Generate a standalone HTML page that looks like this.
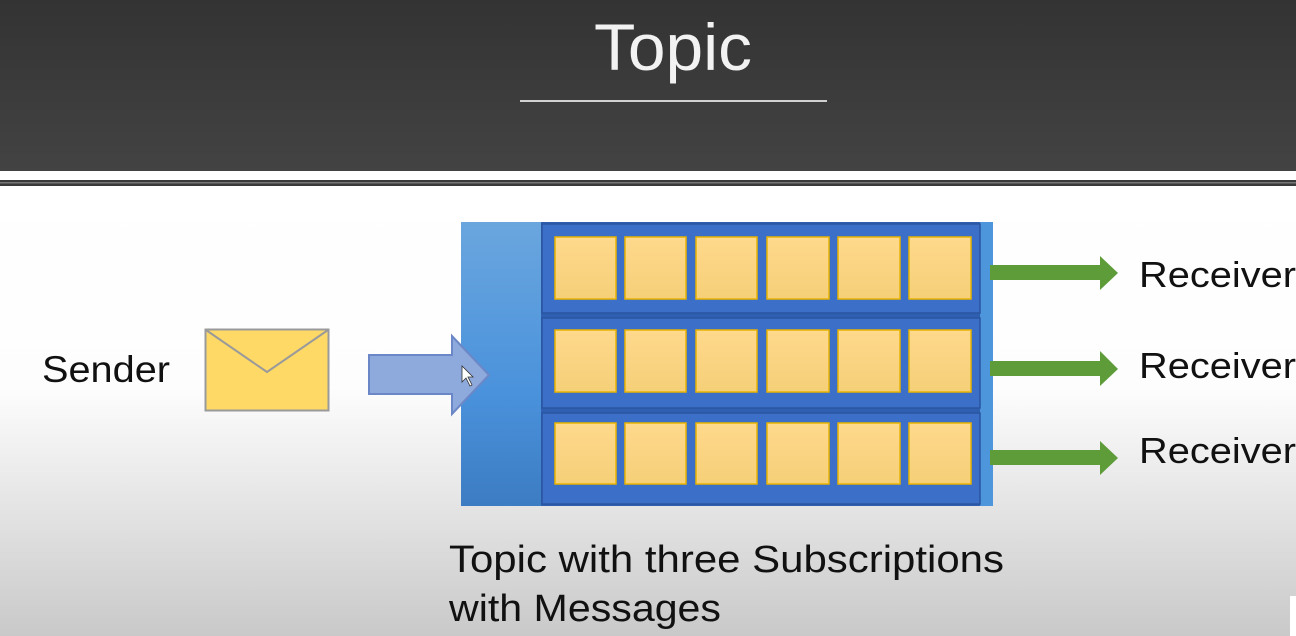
<!DOCTYPE html>
<html><head><meta charset="utf-8"><style>
html,body{margin:0;padding:0;width:1296px;height:636px;overflow:hidden;background:#fff}
svg{display:block}
text{font-family:"Liberation Sans",sans-serif}
</style></head><body>
<svg width="1296" height="636" viewBox="0 0 1296 636" xmlns="http://www.w3.org/2000/svg">
<defs>
<linearGradient id="bg" x1="0" y1="0" x2="0" y2="1">
<stop offset="0" stop-color="#ffffff"/><stop offset="0.45" stop-color="#fdfdfd"/><stop offset="1" stop-color="#c9c9c9"/>
</linearGradient>
<linearGradient id="hd" x1="0" y1="0" x2="0" y2="1">
<stop offset="0" stop-color="#333"/><stop offset="1" stop-color="#434343"/>
</linearGradient>
<linearGradient id="col" x1="0" y1="0" x2="0" y2="1">
<stop offset="0" stop-color="#6aa6de"/><stop offset="0.6" stop-color="#4a92dc"/><stop offset="1" stop-color="#3c7cc2"/>
</linearGradient>
<linearGradient id="sq" x1="0" y1="0" x2="0" y2="1">
<stop offset="0" stop-color="#ffd98c"/><stop offset="1" stop-color="#f6cf78"/>
</linearGradient>
</defs>
<rect x="0" y="186" width="1296" height="450" fill="url(#bg)"/>
<rect x="0" y="0" width="1296" height="171" fill="url(#hd)"/>
<rect x="0" y="171" width="1296" height="9" fill="#fff"/>
<rect x="0" y="180" width="1296" height="6" fill="#3a3a3a"/>
<rect x="0" y="182" width="1296" height="1.5" fill="#777"/>
<text x="594" y="70" font-size="66" fill="#f2f2f2" textLength="158" lengthAdjust="spacingAndGlyphs">Topic</text>
<rect x="520" y="100" width="307" height="2" fill="#d0d0d0"/>

<text x="42" y="382" font-size="37" fill="#111" textLength="128" lengthAdjust="spacingAndGlyphs">Sender</text>
<rect x="205.5" y="329.5" width="123" height="81" fill="#ffd966" stroke="#9a9a9a" stroke-width="2"/>
<polyline points="206,330 267,372 328,330" fill="none" stroke="#9a9a9a" stroke-width="2"/>

<rect x="461" y="222" width="532" height="284" fill="url(#col)"/>
<rect x="541" y="222" width="440" height="284" fill="#2f5fb0"/>
<rect x="980" y="222" width="13" height="284" fill="#4d96dc"/>
<g fill="#3c6fc8" stroke="#2a55a0" stroke-width="1.5">
<rect x="542" y="224" width="438" height="89"/>
<rect x="542" y="318" width="438" height="90"/>
<rect x="542" y="413" width="438" height="91"/>
</g>
<g fill="url(#sq)" stroke="#e8b400" stroke-width="1.5">
<rect x="555" y="237" width="61" height="62"/><rect x="625" y="237" width="61" height="62"/><rect x="696" y="237" width="61" height="62"/><rect x="767" y="237" width="62" height="62"/><rect x="838" y="237" width="62" height="62"/><rect x="909" y="237" width="62" height="62"/>
<rect x="555" y="330" width="61" height="62"/><rect x="625" y="330" width="61" height="62"/><rect x="696" y="330" width="61" height="62"/><rect x="767" y="330" width="62" height="62"/><rect x="838" y="330" width="62" height="62"/><rect x="909" y="330" width="62" height="62"/>
<rect x="555" y="423" width="61" height="61"/><rect x="625" y="423" width="61" height="61"/><rect x="696" y="423" width="61" height="61"/><rect x="767" y="423" width="62" height="61"/><rect x="838" y="423" width="62" height="61"/><rect x="909" y="423" width="62" height="61"/>
</g>

<polygon points="369,355 452,355 452,336 489,375 452,414 452,394 369,394" fill="#8ea9db" stroke="#6b87c7" stroke-width="2"/>
<polygon points="462,366 462,382 466,378 470,386 472,385 468,377 473,377" fill="#fff" stroke="#333" stroke-width="0.8"/>

<g fill="#5e9c3a">
<polygon points="990,265 1100,265 1100,256 1118,273 1100,290 1100,280 990,280"/>
<polygon points="990,361 1100,361 1100,351 1118,369 1100,386 1100,376 990,376"/>
<polygon points="990,450 1100,450 1100,441 1118,458 1100,475 1100,465 990,465"/>
</g>
<g font-size="36" fill="#111">
<text x="1139" y="287" textLength="157" lengthAdjust="spacingAndGlyphs">Receiver</text>
<text x="1139" y="378" textLength="157" lengthAdjust="spacingAndGlyphs">Receiver</text>
<text x="1139" y="463" textLength="157" lengthAdjust="spacingAndGlyphs">Receiver</text>
</g>
<g font-size="38" fill="#111">
<text x="449" y="572" textLength="555" lengthAdjust="spacingAndGlyphs">Topic with three Subscriptions</text>
<text x="449" y="621" textLength="272" lengthAdjust="spacingAndGlyphs">with Messages</text>
</g>
<rect x="1290" y="596" width="6" height="40" fill="#fff"/>
</svg>
</body></html>
